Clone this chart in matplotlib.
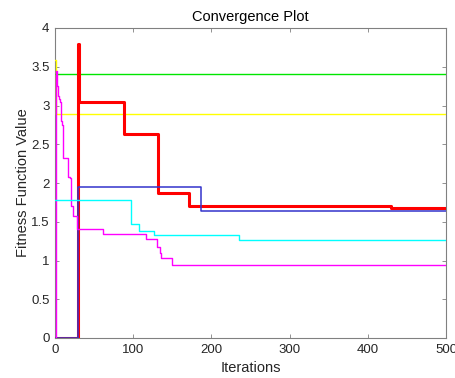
import matplotlib
matplotlib.use("Agg")
import matplotlib.pyplot as plt
import numpy as np

plt.rcParams['font.family'] = ['Liberation Sans', 'DejaVu Sans']

# Step breakpoints (iteration, best fitness)
red_x = [0, 30, 31, 88, 132, 171, 430, 500]
red_y = [0.0, 3.80, 3.05, 2.63, 1.875, 1.705, 1.675, 1.675]

blue_x = [0, 30, 187, 500]
blue_y = [0.0, 1.944, 1.643, 1.643]

green_x = [0, 500]
green_y = [3.41, 3.41]

yellow_x = [0, 1, 500]
yellow_y = [3.59, 2.89, 2.89]

cyan_x = [0, 97, 108, 127, 235, 500]
cyan_y = [1.78, 1.47, 1.385, 1.325, 1.265, 1.265]

magenta_x = [0, 1, 3, 4, 5, 7, 8, 9, 10, 17, 19, 20, 21, 23, 28, 61, 116, 131, 134, 136, 150, 500]
magenta_y = [0.0, 3.44, 3.25, 3.12, 3.08, 3.05, 2.80, 2.75, 2.32, 2.08, 2.07, 1.90, 1.70, 1.58, 1.41,
             1.34, 1.28, 1.18, 1.10, 1.03, 0.94, 0.94]

x_ticks = [0, 100, 200, 300, 400, 500]
y_ticks = [0, 0.5, 1, 1.5, 2, 2.5, 3, 3.5, 4]
y_tick_labels = ['0', '0.5', '1', '1.5', '2', '2.5', '3', '3.5', '4']

fig = plt.figure(figsize=(4.56, 3.78), dpi=100)
ax = fig.add_axes([55/456, 1-338/378, (446-55)/456, (338-28)/378])

ax.step(green_x, green_y, where='post', color=(0, 0.9, 0), lw=1.0, zorder=3)
ax.step(yellow_x, yellow_y, where='post', color=(1, 1, 0), lw=1.0, zorder=3)
ax.step(red_x, red_y, where='post', color=(1, 0, 0), lw=2.2, zorder=3)
ax.step(blue_x, blue_y, where='post', color=(0.2, 0.2, 0.8), lw=1.1, zorder=3)
ax.step(magenta_x, magenta_y, where='post', color=(1, 0, 1), lw=1.0, zorder=3)
ax.step(cyan_x, cyan_y, where='post', color=(0, 1, 1), lw=1.0, zorder=3)

ax.set_xlim(0, 500)
ax.set_ylim(0, 4)
ax.set_xticks(x_ticks)
ax.set_yticks(y_ticks)
ax.set_yticklabels(y_tick_labels)

edge = (0.5, 0.5, 0.5)
for s in ax.spines.values():
    s.set_color(edge)
    s.set_linewidth(0.8)
ax.tick_params(direction='in', length=3, width=0.6, color=edge, labelsize=9.5,
               labelcolor=(0.15, 0.15, 0.15), top=True, right=True, pad=4)

ax.set_title('Convergence Plot', fontsize=10.5, color=(0, 0, 0), pad=5)
ax.set_xlabel('Iterations', fontsize=10.5, color=(0.15, 0.15, 0.15), labelpad=4)
ax.set_ylabel('Fitness Function Value', fontsize=10.5, color=(0.15, 0.15, 0.15), labelpad=1)

fig.savefig('out.png', dpi=100)
